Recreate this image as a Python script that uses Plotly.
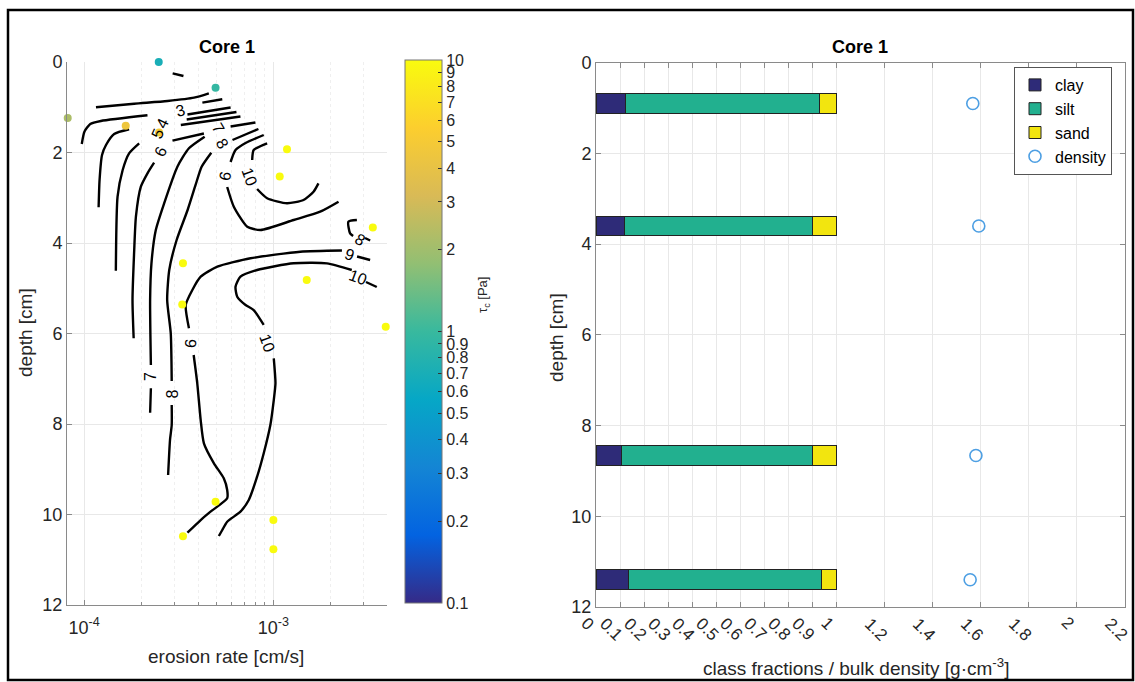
import numpy as np
import plotly.graph_objects as go

W, H = 1135, 682
MT, MB = 25, 25
FONT = "Liberation Sans, Arial, Helvetica, sans-serif"
TXT = "#262626"


def pxx(x):
    return x / W


def pxy(y):
    return 1 - (y - MT) / (H - MT - MB)


# ---------------- Left panel data (erosion rate vs depth) ----------------
# measured points: erosion rate [cm/s], depth [cm], critical shear stress tau_c [Pa]
pt_rate = [2.48e-4, 4.95e-4, 8.2e-5, 1.66e-4, 2.49e-4, 1.18e-3, 1.08e-3, 3.35e-3,
           3.33e-4, 1.50e-3, 3.30e-4, 3.92e-3, 4.95e-4, 1.0e-3, 3.33e-4, 1.0e-3]
pt_depth = [0.0, 0.57, 1.24, 1.41, 1.56, 1.93, 2.53, 3.66,
            4.45, 4.82, 5.36, 5.85, 9.72, 10.12, 10.48, 10.77]
pt_tau = [0.7, 0.95, 2.2, 4.5, 5.0, 10, 10, 10,
          10, 10, 10, 10, 10, 10, 10, 10]

# contour lines (log10 of erosion rate, depth); None = gap for label
c1_lr = [-3.532, -3.475]
c1_d = [0.250, 0.309]
c2_lr = [-3.937, -3.735, -3.559, -3.419, -3.341]
c2_d = [1.001, 0.922, 0.862, 0.789, 0.692]
c3_lr = [-4.012, -3.998, -3.967, -3.911, -3.665, None, -3.454, -3.226, None, -3.375, -3.270]
c3_d = [1.812, 1.540, 1.370, 1.304, 1.178, None, 1.160, 1.006, None, 0.899, 0.824]
c4_lr = [-3.923, -3.918, -3.905, -3.884, -3.841, -3.762, None, -3.458, -3.195]
c4_d = [3.211, 2.608, 2.055, 1.834, 1.591, 1.487, None, 1.271, 1.105]
c5_lr = [-3.832, -3.823, -3.796, -3.762, -3.709, None, -3.489, -3.174]
c5_d = [4.612, 2.977, 2.387, 2.018, 1.797, None, 1.392, 1.204]
c6_lr = [-3.738, -3.744, -3.735, -3.726, -3.700, -3.665, -3.630, None, -3.533, -3.367]
c6_d = [6.106, 5.260, 4.155, 3.419, 2.756, 2.460, 2.225, None, 1.739, 1.580]
c7_lr = [-3.651, -3.647, None,
         -3.647, -3.651, -3.644, -3.621, -3.577, -3.507, -3.446, -3.363, None,
         -3.226, -3.095]
c7_d = [7.750, 7.211, None,
        6.696, 5.260, 4.449, 3.713, 3.123, 2.314, 1.907, 1.651, None,
        1.425, 1.337]
c8_lr = [-3.556, -3.546, -3.537, -3.537, None,
         -3.537, -3.542, -3.561, -3.550, -3.511, -3.453, -3.411, -3.379, -3.328, None,
         -3.216, -3.079, None,
         -2.559, -2.604, -2.595, -2.579, None,
         -2.516, -2.489]
c8_d = [9.127, 8.354, 8.022, 7.580, None,
        7.050, 5.996, 5.260, 4.597, 3.934, 3.271, 2.718, 2.314, 2.004, None,
        1.724, 1.481, None,
        3.492, 3.529, 3.786, 3.845, None,
        3.890, 3.945]
c9_lr = [-3.226, -3.200, -3.147, -3.051, None,
         -3.244, -3.209, -3.138, -3.068, -2.893, -2.753, -2.656, None,
         -2.489, -2.558, None,
         -2.638, -2.858, -3.121, -3.296, -3.384, -3.428, -3.463, -3.446, None,
         -3.421, -3.402, -3.384, -3.367, -3.314, -3.262, -3.244, -3.244, -3.332, -3.384, -3.454]
c9_d = [2.210, 1.945, 1.790, 1.613, None,
        2.762, 3.198, 3.640, 3.713, 3.492, 3.308, 3.087, None,
        4.376, 4.298, None,
        4.166, 4.192, 4.338, 4.524, 4.745, 5.039, 5.370, 5.885, None,
        6.475, 7.101, 7.912, 8.427, 8.868, 9.200, 9.459, 9.642, 9.938, 10.122, 10.402]
c10_lr = [-3.112, -3.104, -3.033, None,
          -3.086, -3.033, -2.928, -2.841, -2.788, -2.762, None,
          -2.454, -2.511, None,
          -2.586, -2.717, -2.893, -3.086, -3.174, -3.200, -3.191, -3.147, -3.104, -3.051, None,
          -2.998, -2.989, -2.998, -3.016, -3.051, -3.086, -3.130, -3.174, -3.244, -3.270, -3.288]
c10_d = [2.166, 1.945, 1.797, None,
         2.807, 3.012, 3.123, 3.050, 2.866, 2.681, None,
         4.972, 4.862, None,
         4.597, 4.449, 4.449, 4.597, 4.745, 4.966, 5.187, 5.370, 5.481, 5.812, None,
         6.548, 7.101, 7.470, 8.022, 8.647, 9.165, 9.680, 9.938, 10.159, 10.343, 10.475]

lab_text = ["3", "4", "5", "6", "7", "8", "9", "10", "8", "9", "10", "9", "10", "7", "8"]
lab_lr = [-3.489, -3.586, -3.611, -3.595, -3.289, -3.270, -3.258, -3.129,
          -2.542, -2.600, -2.551, -3.437, -3.032, -3.646, -3.538]
lab_d = [1.072, 1.359, 1.580, 1.978, 1.459, 1.801, 2.519, 2.541,
         3.912, 4.265, 4.762, 6.221, 6.221, 6.961, 7.337]
lab_angle = [-15, -65, -65, -65, 60, 60, 100, 70, 30, 20, 20, 95, 70, -90, -90]

cb_ticks = [0.1, 0.2, 0.3, 0.4, 0.5, 0.6, 0.7, 0.8, 0.9, 1, 2, 3, 4, 5, 6, 7, 8, 9, 10]
cb_labels = ["0.1", "0.2", "0.3", "0.4", "0.5", "0.6", "0.7", "0.8", "0.9", "1",
             "2", "3", "4", "5", "6", "7", "8", "9", "10"]

# ---------------- Right panel data ----------------
bar_depth = [0.9, 3.6, 8.67, 11.4]
clay = [0.121, 0.120, 0.104, 0.137]
silt = [0.810, 0.781, 0.796, 0.799]
sand = [0.069, 0.099, 0.100, 0.064]
dens_depth = [0.9, 3.6, 8.66, 11.4]
density = [1.567, 1.592, 1.580, 1.556]
rx_ticks = [0, 0.1, 0.2, 0.3, 0.4, 0.5, 0.6, 0.7, 0.8, 0.9, 1, 1.2, 1.4, 1.6, 1.8, 2, 2.2]
rx_labels = ["0", "0.1", "0.2", "0.3", "0.4", "0.5", "0.6", "0.7", "0.8", "0.9", "1",
             "1.2", "1.4", "1.6", "1.8", "2", "2.2"]

parula = [[0.0, "#352A87"], [0.125, "#0363E1"], [0.25, "#1485D4"], [0.375, "#06A7C6"],
          [0.5, "#38B99E"], [0.625, "#92BF73"], [0.75, "#D9BA56"], [0.875, "#FCCE2E"],
          [1.0, "#F9FB0E"]]

fig = go.Figure()

contours = [(c1_lr, c1_d), (c2_lr, c2_d), (c3_lr, c3_d), (c4_lr, c4_d), (c5_lr, c5_d),
            (c6_lr, c6_d), (c7_lr, c7_d), (c8_lr, c8_d), (c9_lr, c9_d), (c10_lr, c10_d)]
for lr, d in contours:
    fig.add_trace(go.Scatter(
        x=[None if v is None else 10 ** v for v in lr], y=d, mode="lines",
        line=dict(color="black", width=2.4, shape="spline", smoothing=0.6),
        connectgaps=False, showlegend=False, hoverinfo="skip", xaxis="x", yaxis="y"))

fig.add_trace(go.Scatter(
    x=pt_rate, y=pt_depth, mode="markers", showlegend=False, cliponaxis=False,
    xaxis="x", yaxis="y",
    marker=dict(size=8, color=np.log10(pt_tau), cmin=-1, cmax=1, colorscale=parula,
                showscale=True,
                colorbar=dict(x=pxx(405), xanchor="left", xpad=0, y=pxy(331.5), yanchor="middle",
                              ypad=0, len=543 / (H - MT - MB), lenmode="fraction", thickness=37,
                              thicknessmode="pixels", tickvals=np.log10(cb_ticks).tolist(),
                              ticktext=cb_labels, ticks="inside", ticklen=4, tickcolor="#333",
                              outlinewidth=1, outlinecolor="#777",
                              tickfont=dict(size=16, family=FONT, color=TXT)))))

fig.add_trace(go.Bar(orientation="h", x=clay, y=bar_depth, width=0.44, name="clay",
                     marker=dict(color="#2E2B78", line=dict(color="#222", width=1)),
                     xaxis="x2", yaxis="y2"))
fig.add_trace(go.Bar(orientation="h", x=silt, y=bar_depth, width=0.44, name="silt",
                     marker=dict(color="#22B08F", line=dict(color="#222", width=1)),
                     xaxis="x2", yaxis="y2"))
fig.add_trace(go.Bar(orientation="h", x=sand, y=bar_depth, width=0.44, name="sand",
                     marker=dict(color="#F2E50F", line=dict(color="#222", width=1)),
                     xaxis="x2", yaxis="y2"))
fig.add_trace(go.Scatter(x=density, y=dens_depth, mode="markers", name="density",
                         marker=dict(symbol="circle-open", size=12, color="#4D9FE3",
                                     line=dict(width=1.6, color="#4D9FE3")),
                         xaxis="x2", yaxis="y2"))

annotations = []
for t, x, y, a in zip(lab_text, lab_lr, lab_d, lab_angle):
    annotations.append(dict(x=x, y=y, xref="x", yref="y", text=t, showarrow=False,
                            textangle=a, font=dict(size=16, family=FONT, color="black")))

# rotated tick labels of the right panel (MATLAB-style placement)
for v, t in zip(rx_ticks, rx_labels):
    annotations.append(dict(x=v, y=pxy(607), xref="x2", yref="paper", text=t,
                            showarrow=False, textangle=45, xanchor="center",
                            yanchor="middle", xshift=-9, yshift=-(13 + 3.3 * len(t)),
                            font=dict(size=17, family=FONT, color=TXT)))


def txt(x, y, t, size=19, angle=0, bold=False, color=TXT):
    annotations.append(dict(x=pxx(x), y=pxy(y), xref="paper", yref="paper",
                            text=("<b>%s</b>" % t) if bold else t, showarrow=False,
                            textangle=angle, xanchor="center", yanchor="middle",
                            font=dict(size=size, family=FONT, color=color)))


txt(227, 47, "Core 1", 18, bold=True, color="black")
txt(860, 47, "Core 1", 18, bold=True, color="black")
txt(26, 333, "depth [cm]", 19, angle=-90)
txt(556, 338, "depth [cm]", 19, angle=-90)
txt(226, 656, "erosion rate [cm/s]", 19)
txt(856, 667, "class fractions / bulk density [g·cm<sup>-3</sup>]", 19)
txt(483, 295, "τ<sub>c</sub> [Pa]", 13, angle=-90)

grid = "#e8e8e8"
axcol = "#8a8a8a"
tickfont = dict(size=18, family=FONT, color=TXT)
minor_vals = [2e-4, 3e-4, 4e-4, 5e-4, 6e-4, 7e-4, 8e-4, 9e-4, 2e-3, 3e-3]

fig.update_layout(
    autosize=True, margin=dict(l=0, r=0, t=MT, b=MB, autoexpand=False),
    paper_bgcolor="white", plot_bgcolor="white", barmode="stack",
    font=dict(family=FONT, color=TXT),
    xaxis=dict(type="log", range=[-4.09, -2.4], domain=[pxx(67), pxx(387)], anchor="y",
               tickvals=[1e-4, 1e-3], ticktext=["10<sup>-4</sup>", "10<sup>-3</sup>"],
               ticks="inside", ticklen=5, tickcolor=axcol, showline=True, linecolor=axcol,
               showgrid=True, gridcolor=grid, zeroline=False, tickfont=tickfont,
               ticklabelstandoff=6, automargin=False,
               minor=dict(tickvals=minor_vals, ticks="inside", ticklen=3, tickcolor=axcol,
                          showgrid=True, gridcolor="#efefef", griddash="dot")),
    yaxis=dict(range=[12, 0], domain=[pxy(605), pxy(62)], anchor="x",
               tickvals=[0, 2, 4, 6, 8, 10, 12], ticks="inside", ticklen=5, tickcolor=axcol,
               showline=True, linecolor=axcol, showgrid=True, gridcolor=grid,
               zeroline=False, tickfont=tickfont, automargin=False),
    xaxis2=dict(range=[0, 2.2], domain=[pxx(596), pxx(1125)], anchor="y2",
                tickvals=rx_ticks, showticklabels=False, ticks="inside",
                ticklen=5, tickcolor=axcol, showline=True, linecolor=axcol, mirror="ticks",
                showgrid=True, gridcolor=grid, zeroline=False, automargin=False),
    yaxis2=dict(range=[12, 0], domain=[pxy(607), pxy(62.7)], anchor="x2",
                tickvals=[0, 2, 4, 6, 8, 10, 12], ticks="inside", ticklen=5, tickcolor=axcol,
                showline=True, linecolor=axcol, mirror="ticks", showgrid=True,
                gridcolor=grid, zeroline=False, tickfont=tickfont, automargin=False),
    legend=dict(x=pxx(1112), xanchor="right", y=pxy(67), yanchor="top",
                bordercolor="#555", borderwidth=1, bgcolor="white", traceorder="normal",
                font=dict(size=16, family=FONT, color="black"), tracegroupgap=0,
                itemwidth=30),
    annotations=annotations,
    shapes=[dict(type="rect", xref="paper", yref="paper", x0=pxx(8), x1=pxx(1133),
                 y0=pxy(680), y1=pxy(10), line=dict(color="black", width=2.5))],
)

fig.write_html("out.html",
               config={"displayModeBar": False},
               default_width="%dpx" % W,
               default_height="%dpx; position:absolute; left:0px; top:0px" % H,
               post_script="document.body.style.margin='0px';document.body.style.overflow='hidden';")
